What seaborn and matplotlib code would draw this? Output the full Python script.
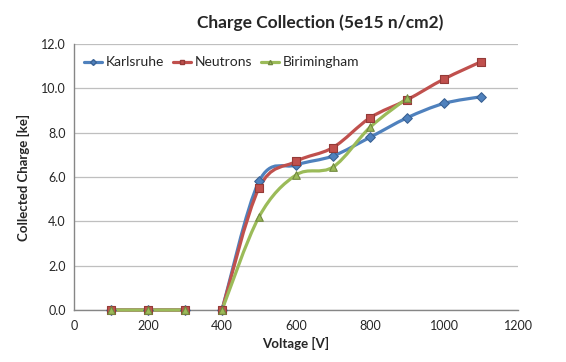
import numpy as np
import pandas as pd
import seaborn as sns
import matplotlib
matplotlib.use("Agg")
import matplotlib.pyplot as plt
from matplotlib.path import Path
from matplotlib.patches import PathPatch
from matplotlib.lines import Line2D

# data (nan = gap in the series)
voltage = [100, 200, 300, 350, 400, 500, 600, 700, 800, 900, 1000, 1100]
karlsruhe = [0, 0, 0, np.nan, 0, 5.8, 6.54, 6.95, 7.79, 8.67, 9.32, 9.62]
neutrons = [0, 0, 0, np.nan, 0, 5.5, 6.7, 7.33, 8.67, 9.48, 10.42, 11.2]
birmingham = [0, 0, 0, np.nan, 0, 4.2, 6.09, 6.45, 8.24, 9.55, np.nan, np.nan]

series = ["Karlsruhe", "Neutrons", "Birimingham"]
colors = {"Karlsruhe": "#4F81BD", "Neutrons": "#C0504D", "Birimingham": "#9BBB59"}
edges = {"Karlsruhe": "#3A6294", "Neutrons": "#943B38", "Birimingham": "#71893F"}
markers = {"Karlsruhe": "D", "Neutrons": "s", "Birimingham": "^"}

df = pd.DataFrame({"Voltage": voltage, "Karlsruhe": karlsruhe,
                   "Neutrons": neutrons, "Birimingham": birmingham})
long = df.melt(id_vars="Voltage", var_name="Series", value_name="Charge").dropna()

sns.set_style("white")
plt.rcParams["font.family"] = ["Lato", "DejaVu Sans"]

fig = plt.figure(figsize=(5.66, 3.62), dpi=100)
ax = fig.add_axes([74 / 566, 1 - 310 / 362, 444 / 566, 266 / 362])


def smooth_path(xs, ys):
    # Excel-style smoothed line: cubic bezier through points (Catmull-Rom)
    pts = np.column_stack([xs, ys])
    n = len(pts)
    verts = [pts[0]]
    codes = [Path.MOVETO]
    for i in range(n - 1):
        p0 = pts[max(i - 1, 0)]
        p1 = pts[i]
        p2 = pts[i + 1]
        p3 = pts[min(i + 2, n - 1)]
        c1 = p1 + (p2 - p0) / 6
        c2 = p2 - (p3 - p1) / 6
        verts += [c1, c2, p2]
        codes += [Path.CURVE4] * 3
    return Path(verts, codes)


for name in series:
    vals = df[name].to_numpy()
    x = df["Voltage"].to_numpy()
    # split into segments at gaps
    seg = []
    for xi, yi in list(zip(x, vals)) + [(np.nan, np.nan)]:
        if np.isnan(yi):
            if len(seg) > 1:
                xs, ys = zip(*seg)
                ax.add_patch(PathPatch(smooth_path(xs, ys), fill=False,
                                       edgecolor=colors[name], lw=2.3,
                                       zorder=2.5, capstyle="round",
                                       joinstyle="round", clip_on=False))
            seg = []
        else:
            seg.append((xi, yi))

for name in series:
    sub = long[long["Series"] == name]
    sns.scatterplot(data=sub, x="Voltage", y="Charge", marker=markers[name],
                    color=colors[name], edgecolor=edges[name], linewidth=0.8,
                    s=30 if name != "Karlsruhe" else 24, zorder=3, ax=ax,
                    legend=False, clip_on=False)

ax.set_xlim(0, 1200)
ax.set_ylim(0, 12)
ax.set_xticks(range(0, 1201, 200))
ax.set_yticks(np.arange(0, 12.1, 2))
ax.set_yticklabels([f"{v:.1f}" for v in np.arange(0, 12.1, 2)])
ax.yaxis.grid(True, color="#BFBFBF", lw=0.9)
ax.set_axisbelow(True)
for s in ["top", "right"]:
    ax.spines[s].set_visible(False)
for s in ["left", "bottom"]:
    ax.spines[s].set_color("#868686")
    ax.spines[s].set_linewidth(1.0)
    ax.spines[s].set_zorder(1)
ax.tick_params(axis="y", length=3, color="#868686", labelsize=9, pad=3)
ax.tick_params(axis="x", length=0, labelsize=9, pad=7)

ax.set_xlabel("Voltage [V]", fontsize=9.5, fontweight="bold", labelpad=4)
ax.set_ylabel("Collected Charge [ke]", fontsize=9.5, fontweight="bold", labelpad=8)
fig.text(320 / 566, 1 - 23 / 362, "Charge Collection (5e15 n/cm2)",
         fontsize=12.5, fontweight="bold", ha="center", va="center")

handles = [Line2D([], [], color=colors[n], lw=2.3, marker=markers[n],
                  markersize=3, markerfacecolor=colors[n],
                  markeredgecolor=edges[n]) for n in series]
ax.legend(handles, series, loc="upper left", ncol=3, frameon=False,
          fontsize=10, handlelength=1.35, handletextpad=0.25, columnspacing=0.6,
          bbox_to_anchor=(0.0, 0.99), borderaxespad=0.3)

fig.savefig("out.png", dpi=100)
